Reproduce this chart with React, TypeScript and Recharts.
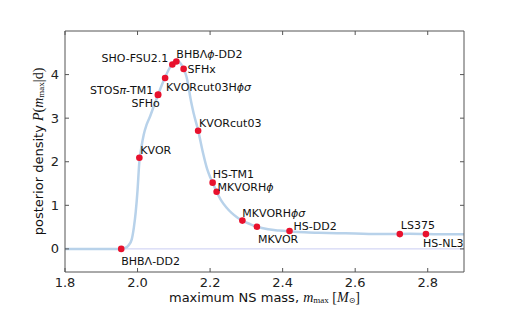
import { ComposedChart, Line, Scatter, XAxis, YAxis, ReferenceLine } from "recharts"

const curveMass = [
  1.8, 1.9, 1.95, 1.965, 1.975, 1.984, 1.99, 1.995, 2.0, 2.005, 2.01, 2.017, 2.025, 2.035, 2.045, 2.056,
  2.065, 2.075, 2.085, 2.095, 2.103, 2.11, 2.12, 2.127, 2.135, 2.14, 2.146, 2.155, 2.167, 2.18, 2.192,
  2.2, 2.207, 2.218, 2.23, 2.245, 2.26, 2.275, 2.289, 2.31, 2.329, 2.36, 2.39, 2.42, 2.46, 2.5, 2.55,
  2.6, 2.65, 2.7, 2.75, 2.8, 2.85, 2.9,
]
const curveDensity = [
  0, 0, 0, 0.02, 0.08, 0.22, 0.5, 0.85, 1.35, 2.0, 2.3, 2.62, 2.85, 3.05, 3.28, 3.52,
  3.72, 3.92, 4.1, 4.24, 4.32, 4.32, 4.24, 4.13, 3.95, 3.75, 3.45, 3.1, 2.72, 2.22, 1.83,
  1.65, 1.52, 1.31, 1.12, 0.95, 0.82, 0.72, 0.65, 0.57, 0.51, 0.45, 0.42, 0.4, 0.38, 0.37, 0.36,
  0.355, 0.34, 0.34, 0.345, 0.34, 0.335, 0.335,
]

const eosNames = [
  "BHBΛ-DD2", "KVOR", "SFHo", "STOSπ-TM1", "KVORcut03Hϕσ", "SHO-FSU2.1", "BHBΛϕ-DD2", "SFHx",
  "KVORcut03", "HS-TM1", "MKVORHϕ", "MKVORHϕσ", "MKVOR", "HS-DD2", "LS375", "HS-NL3",
]
const eosMass = [1.955, 2.005, 2.056, 2.057, 2.076, 2.096, 2.107, 2.127, 2.167, 2.207, 2.218, 2.289, 2.329, 2.419, 2.723, 2.795]
const eosDensity = [0, 2.09, 3.53, 3.54, 3.92, 4.23, 4.3, 4.13, 2.71, 1.52, 1.31, 0.65, 0.51, 0.41, 0.34, 0.34]

const xTicks = [1.8, 2.0, 2.2, 2.4, 2.6, 2.8]
const yTicks = [0, 1, 2, 3, 4]

// where each name sits relative to its dot: dx, dy, anchor
const labelPlace: Record<string, [number, number, string]> = {
  "BHBΛ-DD2": [0, 12, "start"],
  KVOR: [1, -8, "start"],
  SFHo: [2, 8, "end"],
  "STOSπ-TM1": [-5, -5, "end"],
  "KVORcut03Hϕσ": [1, 9, "start"],
  "SHO-FSU2.1": [-4, -7, "end"],
  "BHBΛϕ-DD2": [0, -8, "start"],
  SFHx: [4, 0, "start"],
  KVORcut03: [1, -8, "start"],
  "HS-TM1": [0, -9, "start"],
  "MKVORHϕ": [1, -5, "start"],
  "MKVORHϕσ": [0, -8, "start"],
  MKVOR: [1, 12, "start"],
  "HS-DD2": [4, -5, "start"],
  LS375: [1, -9, "start"],
  "HS-NL3": [-3, 9, "start"],
}

const curve = curveMass.map((x, i) => ({ x, y: curveDensity[i] }))
const eos = eosNames.map((name, i) => ({ x: eosMass[i], y: eosDensity[i], name }))

const axisColor = "#555"
const font = "DejaVu Sans"
const xDomain = [1.8, 2.9]
const yDomain = [-0.53, 5]

function nameParts(name: string) {
  return name.split("").map((ch, i) =>
    "ϕσπ".includes(ch) ? (
      <tspan key={i} fontStyle="italic">{ch}</tspan>
    ) : (
      <tspan key={i}>{ch}</tspan>
    )
  )
}

function EosDot(props: any) {
  const { cx, cy, payload } = props
  const [dx, dy, anchor] = labelPlace[payload.name]
  return (
    <g>
      <circle cx={cx} cy={cy} r={3.3} fill="#e8112d" />
      <text x={cx + dx} y={cy + dy} textAnchor={anchor} dominantBaseline="central" fontSize={11} fill="#111" fontFamily={font}>
        {nameParts(payload.name)}
      </text>
    </g>
  )
}

function BottomTick({ x, y, payload }: any) {
  return (
    <g>
      <line x1={x} y1={y} x2={x} y2={y - 4} stroke={axisColor} />
      <text x={x} y={y + 10} textAnchor="middle" dominantBaseline="central" fontSize={13} fill="#222" fontFamily={font}>
        {payload.value.toFixed(1)}
      </text>
    </g>
  )
}

function TopTick({ x, y }: any) {
  return <line x1={x} y1={y} x2={x} y2={y + 4} stroke={axisColor} />
}

function LeftTick({ x, y, payload }: any) {
  return (
    <g>
      <line x1={x} y1={y} x2={x + 4} y2={y} stroke={axisColor} />
      <text x={x - 6} y={y} textAnchor="end" dominantBaseline="central" fontSize={13} fill="#222" fontFamily={font}>
        {payload.value}
      </text>
    </g>
  )
}

function RightTick({ x, y }: any) {
  return <line x1={x} y1={y} x2={x - 4} y2={y} stroke={axisColor} />
}

function XLabel({ viewBox }: any) {
  const cx = viewBox.x + viewBox.width / 2
  return (
    <text x={cx} y={viewBox.y + 25} textAnchor="middle" dominantBaseline="central" fontSize={13} fill="#111" fontFamily={font}>
      maximum NS mass,{" "}
      <tspan fontFamily="Liberation Serif" fontStyle="italic" fontSize={14}>m</tspan>
      <tspan fontFamily="Liberation Serif" fontSize={9} dy={3}>max</tspan>
      <tspan fontFamily="Liberation Serif" fontSize={14} dy={-3}> [</tspan>
      <tspan fontFamily="Liberation Serif" fontStyle="italic" fontSize={14}>M</tspan>
      <tspan fontFamily="DejaVu Sans" fontSize={8} dy={3}>⊙</tspan>
      <tspan fontFamily="Liberation Serif" fontSize={14} dy={-3}>]</tspan>
    </text>
  )
}

function YLabel({ viewBox }: any) {
  const x = viewBox.x + 13
  const y = viewBox.y + viewBox.height / 2
  return (
    <text x={x} y={y} transform={`rotate(-90 ${x} ${y})`} textAnchor="middle" dominantBaseline="central" fontSize={13} fill="#111" fontFamily={font}>
      posterior density{" "}
      <tspan fontFamily="Liberation Serif" fontStyle="italic" fontSize={14}>P</tspan>
      <tspan fontFamily="Liberation Serif" fontSize={14}>(</tspan>
      <tspan fontFamily="Liberation Serif" fontStyle="italic" fontSize={14}>m</tspan>
      <tspan fontFamily="Liberation Serif" fontSize={9} dy={3}>max</tspan>
      <tspan fontFamily="Liberation Serif" fontSize={14} dy={-3}>|d)</tspan>
    </text>
  )
}

export default function App() {
  return (
    <div style={{ position: "absolute", left: 0, top: 0, background: "#fff" }}>
      <ComposedChart width={517} height={310} margin={{ top: 30, right: 52, left: 25, bottom: 8 }}>
        <XAxis
          xAxisId="b"
          type="number"
          dataKey="x"
          domain={xDomain}
          ticks={xTicks}
          allowDataOverflow
          tickSize={0}
          tickMargin={0}
          tickLine={false}
          height={30}
          stroke={axisColor}
          tick={<BottomTick />}
          label={<XLabel />}
        />
        <XAxis
          xAxisId="t"
          orientation="top"
          type="number"
          dataKey="x"
          domain={xDomain}
          ticks={xTicks}
          allowDataOverflow
          tickSize={0}
          tickMargin={0}
          tickLine={false}
          height={1}
          stroke={axisColor}
          tick={<TopTick />}
        />
        <YAxis
          yAxisId="l"
          type="number"
          domain={yDomain}
          ticks={yTicks}
          allowDataOverflow
          tickSize={0}
          tickMargin={0}
          tickLine={false}
          width={40}
          stroke={axisColor}
          tick={<LeftTick />}
          label={<YLabel />}
        />
        <YAxis
          yAxisId="r"
          orientation="right"
          type="number"
          domain={yDomain}
          ticks={yTicks}
          allowDataOverflow
          tickSize={0}
          tickMargin={0}
          tickLine={false}
          width={1}
          stroke={axisColor}
          tick={<RightTick />}
        />
        <ReferenceLine xAxisId="b" yAxisId="l" y={0} stroke="#c9cdf2" strokeWidth={1} />
        <Line
          xAxisId="b"
          yAxisId="l"
          data={curve}
          dataKey="y"
          type="monotone"
          stroke="#b8d2ea"
          strokeWidth={2.5}
          dot={false}
          activeDot={false}
          isAnimationActive={false}
        />
        <Scatter
          xAxisId="t"
          yAxisId="r"
          data={eos}
          dataKey="y"
          shape={<EosDot />}
          isAnimationActive={false}
        />
      </ComposedChart>
    </div>
  )
}
